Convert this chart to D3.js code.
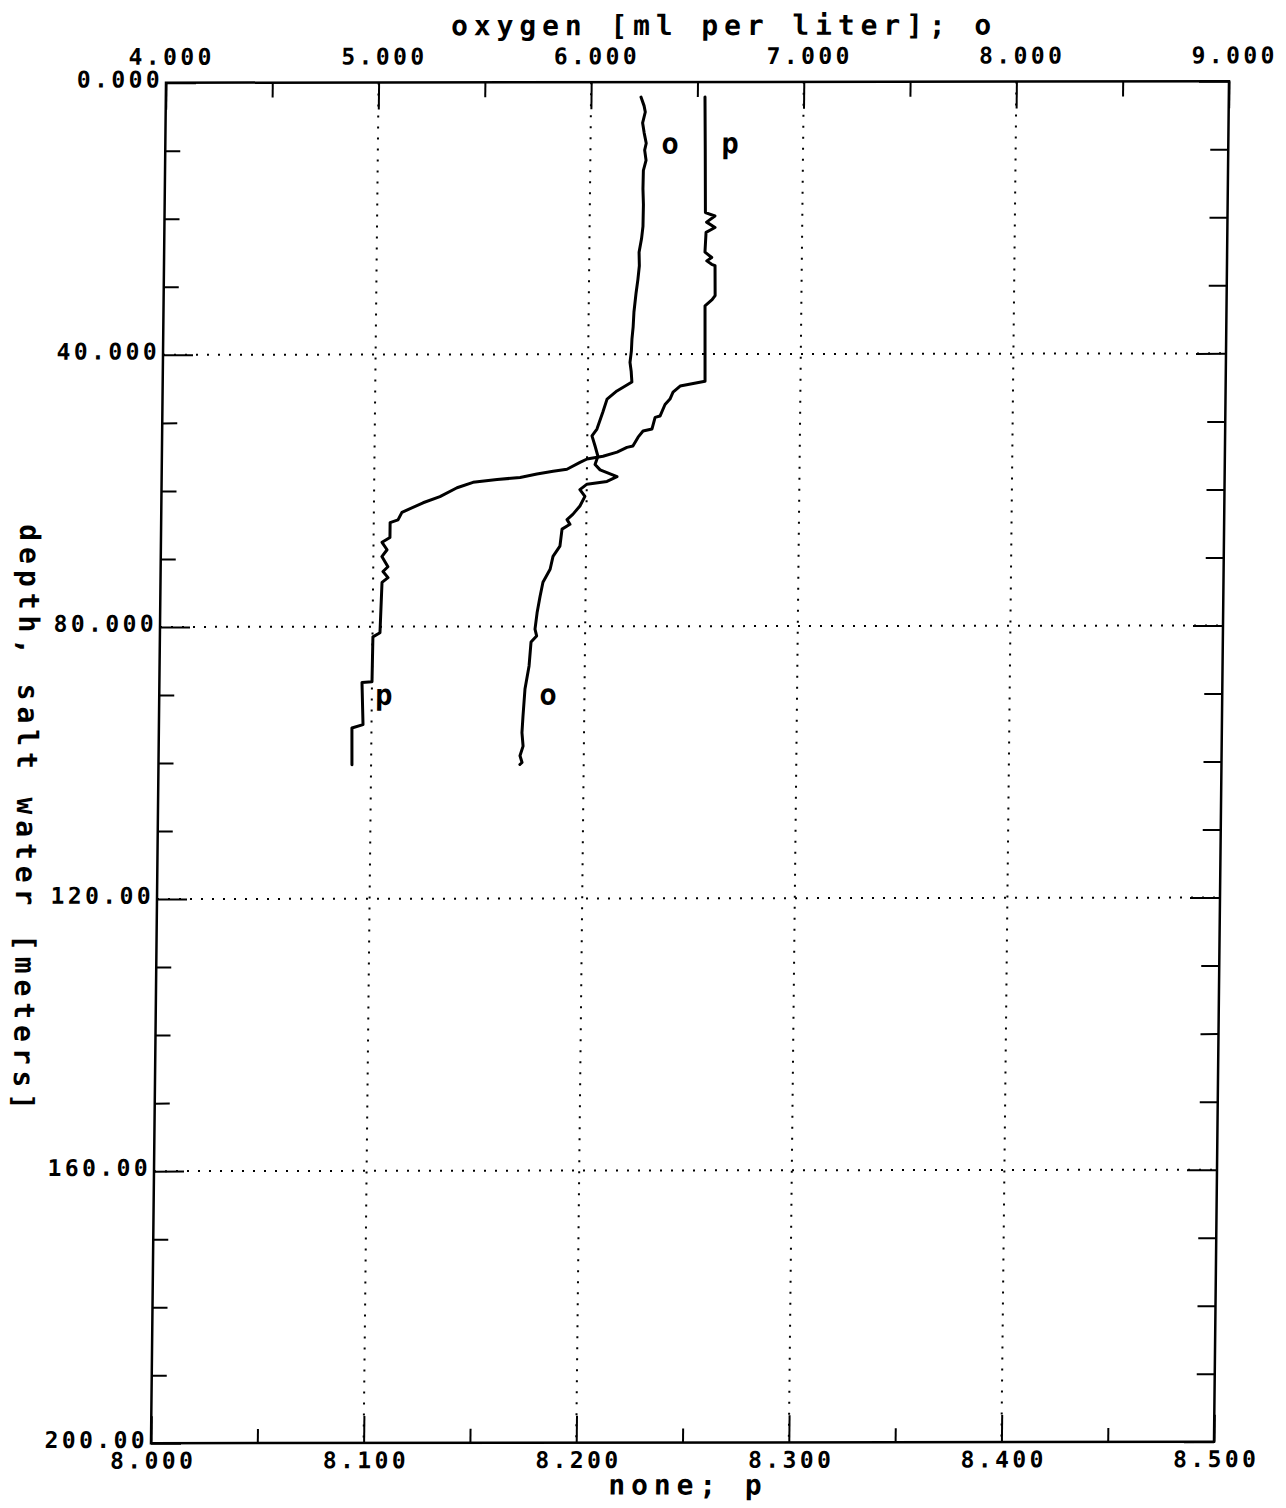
<!DOCTYPE html>
<html>
<head>
<meta charset="utf-8">
<script src="https://cdn.jsdelivr.net/npm/d3@7"></script>
<style>
  html, body { margin: 0; padding: 0; background: #fff; }
  svg { display: block; }
  text { font-family: "DejaVu Sans Mono", monospace; font-weight: bold; fill: #000; }
</style>
</head>
<body>
<svg id="chart" width="1286" height="1508"></svg>
<script>
// Oxygen profile: depth [m] and dissolved oxygen [ml per liter]
const oxygenDepth = [2.2, 3.5, 4.4, 6.0, 7.5, 9.0, 10.0, 11.5, 13.0, 15.7, 18.0, 21.2, 23.0, 25.0, 27.0, 29.0, 31.0, 33.8, 36.0, 37.8, 39.5, 41.2, 42.5, 44.1, 45.4, 46.6, 48.5, 51.0, 52.0, 53.5, 55.0, 56.2, 57.0, 58.0, 58.7, 59.1, 59.9, 60.9, 62.3, 63.5, 64.3, 65.0, 65.7, 68.2, 69.7, 71.6, 73.5, 75.6, 78.0, 80.4, 81.4, 82.3, 85.8, 89.2, 93.2, 95.6, 97.6, 99.0, 100.0, 100.3];
const oxygenValue = [6.235, 6.250, 6.256, 6.244, 6.252, 6.262, 6.255, 6.262, 6.250, 6.249, 6.252, 6.251, 6.245, 6.234, 6.236, 6.230, 6.222, 6.213, 6.210, 6.205, 6.203, 6.197, 6.203, 6.207, 6.137, 6.091, 6.072, 6.045, 6.022, 6.037, 6.051, 6.038, 6.062, 6.142, 6.095, 6.001, 5.968, 5.992, 5.969, 5.937, 5.909, 5.923, 5.886, 5.877, 5.845, 5.832, 5.799, 5.786, 5.773, 5.764, 5.772, 5.746, 5.738, 5.720, 5.712, 5.708, 5.714, 5.700, 5.710, 5.700];

// Second profile "p" (unitless): depth [m] and value
const pDepth = [2.2, 10.0, 19.2, 19.7, 20.6, 21.4, 22.1, 25.0, 25.8, 26.3, 26.8, 27.0, 31.4, 32.0, 32.9, 44.0, 44.7, 45.6, 46.6, 47.4, 49.1, 49.3, 51.0, 51.3, 52.2, 53.5, 53.7, 54.4, 55.0, 55.4, 55.9, 56.9, 57.2, 57.6, 58.1, 58.4, 58.8, 59.6, 60.9, 61.8, 63.2, 64.3, 64.7, 66.9, 67.6, 68.7, 69.7, 71.2, 71.9, 72.8, 73.5, 80.9, 81.5, 88.1, 88.2, 94.4, 94.9, 100.3];
const pValue = [8.2536, 8.2540, 8.2544, 8.2589, 8.2550, 8.2590, 8.2548, 8.2544, 8.2576, 8.2553, 8.2576, 8.2592, 8.2594, 8.2580, 8.2547, 8.2551, 8.2434, 8.2401, 8.2387, 8.2364, 8.2341, 8.2318, 8.2304, 8.2262, 8.2239, 8.2215, 8.2187, 8.2141, 8.2075, 8.2000, 8.1967, 8.1906, 8.1841, 8.1765, 8.1686, 8.1578, 8.1465, 8.1390, 8.1310, 8.1231, 8.1132, 8.1114, 8.1077, 8.1077, 8.1040, 8.1064, 8.1040, 8.1069, 8.1046, 8.1070, 8.1042, 8.1035, 8.1002, 8.1000, 8.0953, 8.0960, 8.0908, 8.0910];

// Axis ticks and labels
const oxygenTicks = [4, 5, 6, 7, 8, 9];
const oxygenTickLabels = ["4.000", "5.000", "6.000", "7.000", "8.000", "9.000"];
const oxygenMinorTicks = [4.5, 5.5, 6.5, 7.5, 8.5];
const pTicks = [8.0, 8.1, 8.2, 8.3, 8.4, 8.5];
const pTickLabels = ["8.000", "8.100", "8.200", "8.300", "8.400", "8.500"];
const pMinorTicks = [8.05, 8.15, 8.25, 8.35, 8.45];
const depthTicks = [0, 40, 80, 120, 160, 200];
const depthTickLabels = ["0.000", "40.000", "80.000", "120.00", "160.00", "200.00"];
const depthMinorTicks = [10, 20, 30, 50, 60, 70, 90, 100, 110, 130, 140, 150, 170, 180, 190];

// Axis titles
const topTitle = "oxygen [ml per liter]; o";
const bottomTitle = "none; p";
const leftTitle = "depth, salt water [meters]";

// Curve tags: text, which scale, value, depth
const tagText = ["o", "p", "p", "o"];
const tagScale = ["oxygen", "p", "p", "oxygen"];
const tagValue = [6.374, 8.2656, 8.1057, 5.829];
const tagDepth = [9.3, 9.3, 90.3, 90.3];

const W = 1063, H = 1360.5;
const tickFont = 23, tickSpacing = 3.4;
const titleFont = 28, titleSpacing = 5.9;

const svg = d3.select("#chart");
// plotting frame (slightly sheared, as drawn by the plotter)
const root = svg.append("g")
  .attr("transform", `matrix(1, ${-1.5 / W}, ${-15 / H}, 1, 166, 82.75)`);

const xO = d3.scaleLinear().domain([4, 9]).range([0, W]);
const xP = d3.scaleLinear().domain([8, 8.5]).range([0, W]);
const y = d3.scaleLinear().domain([0, 200]).range([0, H]);

// dotted grid
const grid = root.append("g").attr("stroke", "#000").attr("stroke-width", 2)
  .attr("stroke-dasharray", "2 9").attr("fill", "none");
grid.selectAll("line.v").data(oxygenTicks.slice(1, -1)).join("line")
  .attr("class", "v")
  .attr("x1", d => xO(d)).attr("x2", d => xO(d))
  .attr("y1", 0).attr("y2", H);
grid.selectAll("line.h").data(depthTicks.slice(1, -1)).join("line")
  .attr("class", "h")
  .attr("y1", d => y(d)).attr("y2", d => y(d))
  .attr("x1", 0).attr("x2", W);

function styleAxis(g) {
  g.select(".domain").remove();
  g.selectAll(".tick line").attr("stroke", "#000").attr("stroke-width", 2);
  g.selectAll("text")
    .style("font-size", tickFont + "px")
    .style("letter-spacing", tickSpacing + "px");
}

// top axis (oxygen)
root.append("g")
  .call(d3.axisTop(xO).tickValues(oxygenTicks).tickSize(-27).tickPadding(18)
    .tickFormat((d, i) => oxygenTickLabels[i]))
  .call(styleAxis)
  .call(g => g.selectAll("text").attr("dx", 5));
root.append("g")
  .call(d3.axisTop(xO).tickValues(oxygenMinorTicks).tickSize(-15).tickFormat(""))
  .call(styleAxis);

// bottom axis (p)
root.append("g").attr("transform", `translate(0,${H})`)
  .call(d3.axisBottom(xP).tickValues(pTicks).tickSize(-27).tickPadding(9)
    .tickFormat((d, i) => pTickLabels[i]))
  .call(styleAxis)
  .call(g => g.selectAll("text").attr("dx", 2));
root.append("g").attr("transform", `translate(0,${H})`)
  .call(d3.axisBottom(xP).tickValues(pMinorTicks).tickSize(-14).tickFormat(""))
  .call(styleAxis);

// left axis (depth)
root.append("g")
  .call(d3.axisLeft(y).tickValues(depthTicks).tickSize(-30).tickPadding(3)
    .tickFormat((d, i) => depthTickLabels[i]))
  .call(styleAxis)
  .call(g => g.selectAll("text").attr("dy", "0.18em"));
root.append("g")
  .call(d3.axisLeft(y).tickValues(depthMinorTicks).tickSize(-15).tickFormat(""))
  .call(styleAxis);

// right axis ticks
root.append("g").attr("transform", `translate(${W},0)`)
  .call(d3.axisRight(y).tickValues(depthTicks).tickSize(-30).tickFormat(""))
  .call(styleAxis);
root.append("g").attr("transform", `translate(${W},0)`)
  .call(d3.axisRight(y).tickValues(depthMinorTicks).tickSize(-18).tickFormat(""))
  .call(styleAxis);

// frame
root.append("rect")
  .attr("x", 0).attr("y", 0).attr("width", W).attr("height", H)
  .attr("fill", "none").attr("stroke", "#000").attr("stroke-width", 2.5);

// profiles
const oxygenLine = d3.line().x(d => xO(d[1])).y(d => y(d[0]));
const pLine = d3.line().x(d => xP(d[1])).y(d => y(d[0]));

root.append("path")
  .datum(oxygenDepth.map((d, i) => [d, oxygenValue[i]]))
  .attr("d", oxygenLine)
  .attr("fill", "none").attr("stroke", "#000").attr("stroke-width", 3)
  .attr("stroke-linejoin", "round").attr("stroke-linecap", "round");

root.append("path")
  .datum(pDepth.map((d, i) => [d, pValue[i]]))
  .attr("d", pLine)
  .attr("fill", "none").attr("stroke", "#000").attr("stroke-width", 3)
  .attr("stroke-linejoin", "round").attr("stroke-linecap", "round");

// curve tags
root.append("g").selectAll("text")
  .data(tagText.map((t, i) => ({ t, s: tagScale[i], v: tagValue[i], d: tagDepth[i] })))
  .join("text")
  .attr("x", d => (d.s === "oxygen" ? xO(d.v) : xP(d.v)))
  .attr("y", d => y(d.d))
  .attr("dy", "0.28em")
  .attr("text-anchor", "middle")
  .style("font-size", "29px")
  .text(d => d.t);

// axis titles
root.append("text")
  .attr("x", W / 2 + 26).attr("y", -47)
  .attr("text-anchor", "middle")
  .style("font-size", titleFont + "px").style("letter-spacing", titleSpacing + "px")
  .text(topTitle);

root.append("text")
  .attr("x", W / 2 + 6).attr("y", H + 52)
  .attr("text-anchor", "middle")
  .style("font-size", titleFont + "px").style("letter-spacing", titleSpacing + "px")
  .text(bottomTitle);

root.append("text")
  .attr("transform", `translate(-141,${H / 2 + 57}) rotate(90)`)
  .attr("text-anchor", "middle")
  .style("font-size", titleFont + "px").style("letter-spacing", titleSpacing + "px")
  .text(leftTitle);
</script>
</body>
</html>
